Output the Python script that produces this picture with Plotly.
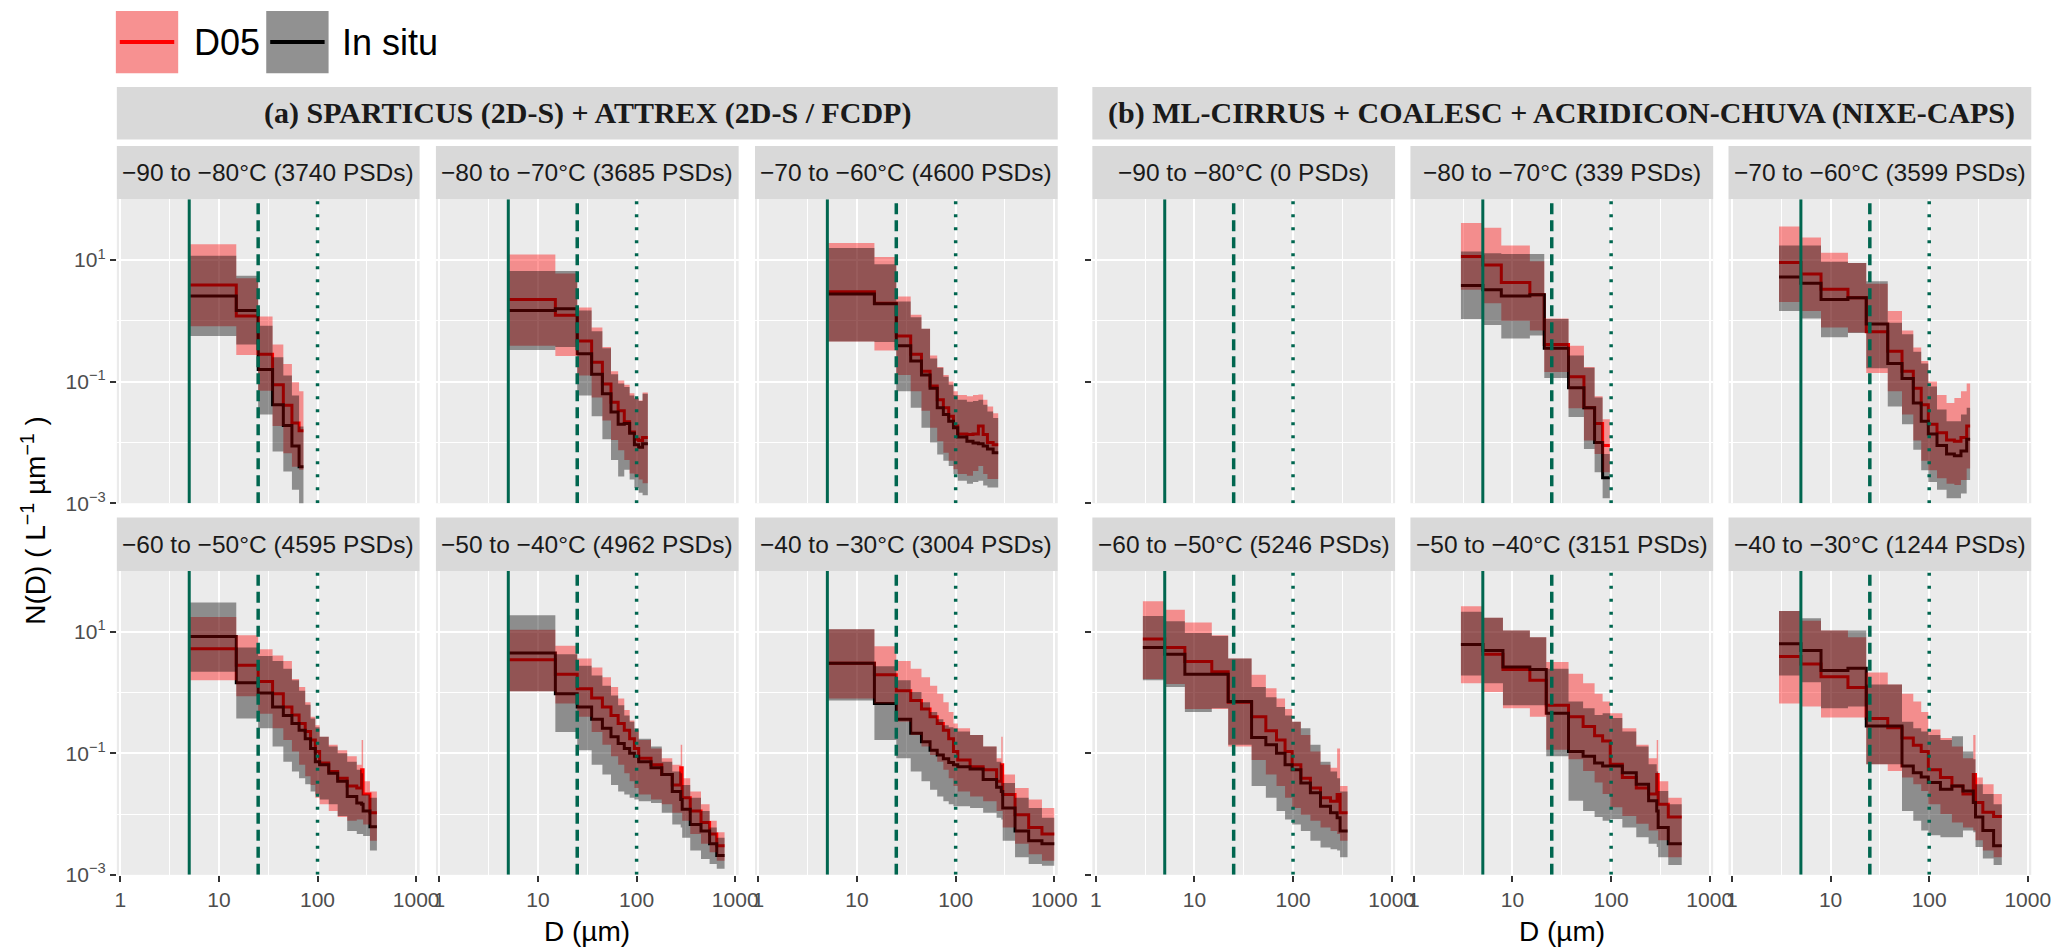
import plotly.graph_objects as go

W, H = 2067, 950

# ---- data ----
# bin edges in µm; N(D) values stored as log10 of L^-1 µm^-1 (mean, low, high)
# (a) SPARTICUS + ATTREX
a1_edges = [5, 15, 25, 35, 45, 55, 65, 72]
a1_d05 = [0.59, 0.08, -0.55, -1.05, -1.39, -1.68, -1.81]
a1_d05_lo = [-0.09, -0.56, -1.15, -1.73, -2.18, -2.40, -2.45]
a1_d05_hi = [1.26, 0.70, 0.07, -0.39, -0.71, -1.01, -1.16]
a1_obs = [0.41, 0.17, -0.80, -1.38, -1.72, -2.06, -2.40]
a1_obs_lo = [-0.25, -0.39, -1.54, -2.15, -2.48, -2.78, -3.05]
a1_obs_hi = [1.07, 0.74, -0.08, -0.60, -0.90, -1.23, -1.74]

a2_edges = [5, 15, 25, 35, 45, 55, 65, 75, 85, 95, 105, 115, 130]
a2_d05 = [0.35, 0.09, -0.33, -0.68, -1.04, -1.34, -1.48, -1.66, -1.83, -1.95, -1.97, -1.92]
a2_d05_lo = [-0.41, -0.58, -0.90, -1.26, -1.64, -1.96, -2.13, -2.29, -2.51, -2.56, -2.61, -2.67]
a2_d05_hi = [1.09, 0.78, 0.22, -0.11, -0.43, -0.83, -0.98, -1.05, -1.19, -1.27, -1.31, -1.18]
a2_obs = [0.17, 0.20, -0.54, -0.88, -1.20, -1.50, -1.70, -1.69, -1.85, -2.04, -2.08, -2.02]
a2_obs_lo = [-0.48, -0.43, -1.23, -1.57, -1.95, -2.29, -2.56, -2.45, -2.61, -2.75, -2.83, -2.87]
a2_obs_hi = [0.82, 0.82, 0.17, -0.17, -0.45, -0.88, -1.03, -1.09, -1.23, -1.28, -1.32, -1.20]

a3_edges = [5, 15, 25, 35, 45, 55, 65, 75, 85, 95, 105, 130, 150, 170, 190, 210, 240, 270]
a3_d05 = [0.48, 0.29, -0.25, -0.55, -0.83, -1.07, -1.30, -1.43, -1.57, -1.73, -1.86, -1.87, -1.86, -1.73, -1.87, -2.00, -2.04]
a3_d05_lo = [-0.34, -0.49, -0.89, -1.16, -1.48, -1.76, -1.98, -2.17, -2.30, -2.44, -2.52, -2.55, -2.47, -2.39, -2.52, -2.60, -2.60]
a3_d05_hi = [1.28, 1.05, 0.40, 0.10, -0.13, -0.57, -0.76, -0.89, -1.00, -1.16, -1.22, -1.24, -1.22, -1.21, -1.30, -1.41, -1.52]
a3_obs = [0.44, 0.28, -0.41, -0.66, -0.89, -1.11, -1.43, -1.54, -1.65, -1.76, -1.91, -1.98, -2.01, -2.02, -2.06, -2.11, -2.17]
a3_obs_lo = [-0.34, -0.35, -1.16, -1.43, -1.76, -2.00, -2.20, -2.30, -2.39, -2.52, -2.63, -2.68, -2.65, -2.63, -2.71, -2.74, -2.74]
a3_obs_hi = [1.20, 0.93, 0.32, 0.06, -0.13, -0.62, -0.77, -0.92, -1.05, -1.22, -1.30, -1.33, -1.32, -1.30, -1.38, -1.49, -1.60]

a4_edges = [5, 15, 25, 35, 45, 55, 65, 75, 85, 95, 105, 130, 160, 200, 250, 280, 290, 340, 400]
a4_d05 = [0.72, 0.45, 0.18, -0.02, -0.24, -0.37, -0.51, -0.64, -0.78, -0.97, -1.16, -1.30, -1.41, -1.54, -1.57, -1.27, -1.67, -1.98]
a4_d05_lo = [0.20, -0.06, -0.35, -0.59, -0.78, -0.97, -1.19, -1.38, -1.52, -1.73, -1.84, -1.95, -2.05, -2.11, -2.09, -2.09, -2.17, -2.44]
a4_d05_hi = [1.24, 0.94, 0.71, 0.61, 0.52, 0.22, 0.09, -0.16, -0.40, -0.54, -0.73, -0.86, -0.95, -1.05, -1.19, -0.78, -1.46, -1.63]
a4_obs = [0.92, 0.16, -0.01, -0.24, -0.38, -0.51, -0.62, -0.76, -0.92, -1.14, -1.19, -1.33, -1.46, -1.71, -1.82, -1.84, -1.95, -2.21]
a4_obs_lo = [0.34, -0.43, -0.59, -0.89, -1.14, -1.30, -1.41, -1.51, -1.63, -1.68, -1.76, -1.84, -2.03, -2.28, -2.33, -2.33, -2.36, -2.60]
a4_obs_hi = [1.48, 0.74, 0.60, 0.52, 0.39, 0.20, 0.03, -0.20, -0.43, -0.57, -0.73, -0.89, -1.00, -1.14, -1.27, -1.33, -1.68, -1.73]

a5_edges = [5, 15, 25, 35, 45, 55, 65, 75, 85, 95, 105, 140, 180, 230, 280, 290, 350, 450, 550, 650, 780]
a5_d05 = [0.54, 0.30, 0.06, -0.09, -0.24, -0.38, -0.51, -0.62, -0.76, -0.92, -1.08, -1.19, -1.35, -1.52, -1.24, -1.73, -1.95, -2.14, -2.33, -2.52]
a5_d05_lo = [0.02, -0.18, -0.40, -0.65, -0.86, -1.05, -1.19, -1.33, -1.46, -1.57, -1.68, -1.76, -1.84, -1.98, -1.98, -2.11, -2.33, -2.49, -2.63, -2.77]
a5_d05_hi = [1.03, 0.77, 0.56, 0.41, 0.25, 0.09, -0.10, -0.29, -0.46, -0.62, -0.78, -0.92, -1.08, -1.19, -0.86, -1.41, -1.63, -1.84, -2.11, -2.30]
a5_obs = [0.65, -0.02, -0.24, -0.44, -0.59, -0.73, -0.84, -0.92, -1.00, -1.05, -1.14, -1.24, -1.35, -1.63, -1.76, -1.92, -2.17, -2.28, -2.49, -2.68]
a5_obs_lo = [0.02, -0.65, -0.95, -1.19, -1.35, -1.52, -1.63, -1.68, -1.73, -1.76, -1.79, -1.82, -1.98, -2.17, -2.22, -2.39, -2.60, -2.74, -2.82, -2.90]
a5_obs_hi = [1.27, 0.63, 0.44, 0.28, 0.11, -0.05, -0.21, -0.38, -0.48, -0.59, -0.76, -0.89, -1.14, -1.30, -1.33, -1.52, -1.73, -1.95, -2.22, -2.39]

a6_edges = [5, 15, 25, 35, 45, 55, 65, 75, 85, 95, 105, 140, 190, 260, 290, 300, 400, 550, 750, 1000]
a6_d05 = [0.48, 0.29, 0.03, -0.13, -0.27, -0.40, -0.51, -0.62, -0.76, -0.97, -1.11, -1.22, -1.27, -1.46, -1.19, -1.68, -2.01, -2.22, -2.33]
a6_d05_lo = [-0.10, -0.18, -0.48, -0.70, -0.89, -1.03, -1.14, -1.27, -1.41, -1.54, -1.63, -1.71, -1.79, -1.95, -1.95, -2.22, -2.49, -2.66, -2.77]
a6_d05_hi = [1.04, 0.76, 0.52, 0.39, 0.25, 0.11, -0.02, -0.16, -0.32, -0.51, -0.59, -0.70, -0.89, -1.08, -0.73, -1.35, -1.57, -1.76, -1.90]
a6_obs = [0.48, -0.18, -0.44, -0.67, -0.81, -0.95, -1.03, -1.09, -1.15, -1.19, -1.22, -1.26, -1.43, -1.56, -1.63, -1.90, -2.28, -2.44, -2.49]
a6_obs_lo = [-0.13, -0.78, -1.08, -1.30, -1.46, -1.60, -1.71, -1.79, -1.84, -1.87, -1.87, -1.90, -1.98, -2.06, -2.09, -2.44, -2.71, -2.82, -2.85]
a6_obs_hi = [1.04, 0.43, 0.20, 0.01, -0.16, -0.32, -0.44, -0.54, -0.57, -0.59, -0.64, -0.70, -0.89, -1.14, -1.19, -1.49, -1.73, -1.90, -2.06]

# (b) ML-CIRRUS + COALESC + ACRIDICON-CHUVA (first panel has no PSDs)
b2_edges = [3, 5, 7.7, 15, 21, 37, 53, 68, 82, 97]
b2_d05 = [1.06, 0.92, 0.63, 0.43, -0.39, -0.92, -1.43, -1.69, -2.05]
b2_d05_lo = [0.51, 0.29, 0.00, -0.16, -0.84, -1.44, -1.97, -2.19, -2.49]
b2_d05_hi = [1.61, 1.53, 1.24, 0.98, 0.04, -0.41, -0.76, -1.24, -1.62]
b2_obs = [0.58, 0.51, 0.41, 0.43, -0.45, -1.10, -1.43, -2.00, -2.58]
b2_obs_lo = [0.03, -0.07, -0.29, -0.24, -0.94, -1.58, -2.11, -2.49, -2.92]
b2_obs_hi = [1.14, 1.11, 1.10, 1.10, 0.03, -0.57, -0.77, -1.26, -2.19]

b3_edges = [3, 5, 8, 15, 23, 38, 53, 69, 83, 98, 120, 150, 180, 210, 240, 260]
b3_d05 = [0.96, 0.77, 0.52, 0.38, -0.18, -0.50, -0.83, -1.11, -1.38, -1.70, -1.84, -1.96, -1.98, -1.92, -1.73]
b3_d05_lo = [0.31, 0.16, -0.11, -0.19, -0.86, -1.16, -1.54, -1.97, -2.30, -2.46, -2.59, -2.68, -2.70, -2.62, -2.43]
b3_d05_hi = [1.55, 1.37, 1.12, 0.95, 0.61, 0.16, -0.16, -0.44, -0.66, -1.00, -1.22, -1.35, -1.27, -1.16, -1.03]
b3_obs = [0.72, 0.62, 0.35, 0.38, -0.05, -0.70, -0.95, -1.35, -1.65, -1.86, -2.05, -2.19, -2.22, -2.14, -1.95]
b3_obs_lo = [0.16, 0.04, -0.27, -0.20, -0.78, -1.41, -1.70, -2.12, -2.46, -2.65, -2.78, -2.92, -2.92, -2.84, -2.62]
b3_obs_hi = [1.24, 1.24, 0.97, 0.95, 0.65, -0.03, -0.22, -0.51, -0.70, -1.08, -1.46, -1.65, -1.65, -1.54, -1.43]

b4_edges = [3, 5, 8, 15, 22, 38, 53, 68, 83, 98, 120, 150, 190, 240, 280, 300, 357]
b4_d05 = [0.88, 0.74, 0.51, 0.34, -0.16, -0.40, -0.63, -0.78, -0.97, -1.19, -1.41, -1.57, -1.73, -1.79, -1.68, -1.98]
b4_d05_lo = [0.22, 0.14, -0.27, -0.27, -0.89, -1.11, -1.35, -1.54, -1.73, -1.90, -2.01, -2.11, -2.22, -2.28, -2.33, -2.44]
b4_d05_hi = [1.50, 1.36, 1.15, 0.94, 0.56, 0.29, 0.07, -0.10, -0.27, -0.48, -0.70, -0.97, -1.19, -1.24, -0.92, -1.54]
b4_obs = [0.74, 0.63, 0.30, 0.30, -0.15, -0.74, -0.86, -1.00, -1.19, -1.27, -1.49, -1.65, -1.87, -1.98, -2.06, -2.28]
b4_obs_lo = [0.20, 0.09, -0.32, -0.26, -0.86, -1.54, -1.73, -1.95, -2.09, -2.17, -2.28, -2.44, -2.55, -2.58, -2.60, -2.71]
b4_obs_hi = [1.26, 1.17, 0.98, 0.93, 0.56, 0.09, -0.08, -0.24, -0.38, -0.48, -0.59, -0.86, -1.14, -1.30, -1.41, -1.63]

b5_edges = [3, 5, 8, 15, 22, 37, 52, 68, 82, 98, 130, 180, 240, 290, 300, 380, 520]
b5_d05 = [0.79, 0.63, 0.38, 0.20, -0.21, -0.40, -0.56, -0.71, -0.80, -1.18, -1.40, -1.57, -1.67, -1.35, -1.84, -2.05]
b5_d05_lo = [0.15, 0.01, -0.26, -0.40, -0.94, -1.10, -1.29, -1.48, -1.67, -1.89, -2.03, -2.16, -2.27, -2.27, -2.43, -2.71]
b5_d05_hi = [1.42, 1.23, 1.02, 0.91, 0.50, 0.31, 0.15, -0.02, -0.15, -0.34, -0.59, -0.86, -1.08, -0.78, -1.46, -1.73]
b5_obs = [0.79, 0.69, 0.42, 0.38, -0.34, -0.97, -1.05, -1.16, -1.21, -1.21, -1.32, -1.51, -1.78, -1.95, -2.22, -2.49]
b5_obs_lo = [0.28, 0.15, -0.21, -0.21, -1.05, -1.78, -1.95, -2.05, -2.11, -2.08, -2.22, -2.38, -2.49, -2.54, -2.71, -2.84]
b5_obs_hi = [1.33, 1.23, 1.02, 0.91, 0.39, -0.15, -0.26, -0.37, -0.34, -0.42, -0.64, -0.89, -1.18, -1.30, -1.62, -1.84]

b6_edges = [3, 5, 8, 15, 23, 38, 53, 69, 83, 98, 130, 170, 220, 280, 295, 350, 450, 545]
b6_d05 = [0.59, 0.47, 0.26, 0.08, -0.43, -0.58, -0.75, -0.87, -0.97, -1.27, -1.40, -1.54, -1.67, -1.35, -1.81, -1.97, -2.04]
b6_d05_lo = [-0.18, -0.23, -0.41, -0.41, -1.18, -1.29, -1.40, -1.51, -1.62, -1.84, -2.00, -2.14, -2.22, -2.27, -2.43, -2.60, -2.71]
b6_d05_hi = [1.34, 1.18, 1.02, 0.91, 0.33, 0.13, -0.02, -0.15, -0.32, -0.61, -0.75, -0.89, -1.08, -0.70, -1.40, -1.51, -1.67]
b6_obs = [0.80, 0.69, 0.36, 0.40, -0.55, -0.55, -1.21, -1.32, -1.39, -1.48, -1.59, -1.54, -1.62, -1.81, -2.05, -2.27, -2.52]
b6_obs_lo = [0.28, 0.17, -0.26, -0.23, -1.18, -1.18, -1.95, -2.11, -2.27, -2.35, -2.38, -2.38, -2.27, -2.30, -2.54, -2.73, -2.84]
b6_obs_hi = [1.34, 1.22, 1.02, 1.02, 0.13, 0.13, -0.48, -0.59, -0.64, -0.70, -0.78, -0.72, -0.97, -1.10, -1.51, -1.67, -1.84]

panel_labels = [
    "−90 to −80°C (3740 PSDs)", "−80 to −70°C (3685 PSDs)", "−70 to −60°C (4600 PSDs)",
    "−90 to −80°C (0 PSDs)", "−80 to −70°C (339 PSDs)", "−70 to −60°C (3599 PSDs)",
    "−60 to −50°C (4595 PSDs)", "−50 to −40°C (4962 PSDs)", "−40 to −30°C (3004 PSDs)",
    "−60 to −50°C (5246 PSDs)", "−50 to −40°C (3151 PSDs)", "−40 to −30°C (1244 PSDs)",
]
group_titles = ["(a) SPARTICUS (2D-S) + ATTREX (2D-S / FCDP)",
                "(b) ML-CIRRUS + COALESC + ACRIDICON-CHUVA (NIXE-CAPS)"]

# instrument size limits drawn in every panel (µm)
limit_sizes = [5, 25, 100]
limit_dash = ["solid", "11px,6px", "3px,10px"]
limit_width = [3, 3.5, 3.5]

panels = [
    (a1_edges, a1_d05, a1_d05_lo, a1_d05_hi, a1_obs, a1_obs_lo, a1_obs_hi),
    (a2_edges, a2_d05, a2_d05_lo, a2_d05_hi, a2_obs, a2_obs_lo, a2_obs_hi),
    (a3_edges, a3_d05, a3_d05_lo, a3_d05_hi, a3_obs, a3_obs_lo, a3_obs_hi),
    None,
    (b2_edges, b2_d05, b2_d05_lo, b2_d05_hi, b2_obs, b2_obs_lo, b2_obs_hi),
    (b3_edges, b3_d05, b3_d05_lo, b3_d05_hi, b3_obs, b3_obs_lo, b3_obs_hi),
    (a4_edges, a4_d05, a4_d05_lo, a4_d05_hi, a4_obs, a4_obs_lo, a4_obs_hi),
    (a5_edges, a5_d05, a5_d05_lo, a5_d05_hi, a5_obs, a5_obs_lo, a5_obs_hi),
    (a6_edges, a6_d05, a6_d05_lo, a6_d05_hi, a6_obs, a6_obs_lo, a6_obs_hi),
    (b4_edges, b4_d05, b4_d05_lo, b4_d05_hi, b4_obs, b4_obs_lo, b4_obs_hi),
    (b5_edges, b5_d05, b5_d05_lo, b5_d05_hi, b5_obs, b5_obs_lo, b5_obs_hi),
    (b6_edges, b6_d05, b6_d05_lo, b6_d05_hi, b6_obs, b6_obs_lo, b6_obs_hi),
]

# layout in pixels
panel_left = [108, 430.5, 753, 1094, 1415.5, 1737]
panel_w = 306
row_top = [193.5, 569.5]
row_h = 307.5
strip_h = 54
group_top, group_bot = 80, 133
GREEN = "#00664F"
RED_FILL = "rgba(255,0,0,0.4)"
BLACK_FILL = "rgba(0,0,0,0.4)"


def px(x):
    return x / W


def py(y):
    return 1 - y / H


def steps(edges, vals):
    # value of each bin from its left edge, last value repeated to close the final bin
    y = [10 ** v for v in vals]
    return edges, y + y[-1:]


fig = go.Figure()
shapes = []
annotations = []
axes = {}

for k in range(12):
    row, col = divmod(k, 6)
    sfx = "" if k == 0 else str(k + 1)
    xa, ya = "x" + sfx, "y" + sfx
    common = dict(xaxis=xa, yaxis=ya, showlegend=False, hoverinfo="skip")

    data = panels[k]
    if data is not None:
        edges, d05, d05_lo, d05_hi, obs, obs_lo, obs_hi = data
        # lines first, ribbons on top (as in the original layering)
        for vals, color in ((d05, "#FF0000"), (obs, "#000000")):
            xs, ys = steps(edges, vals)
            fig.add_trace(go.Scatter(x=xs, y=ys, mode="lines",
                                     line=dict(color=color, width=3, shape="hv"), **common))
        for lo, hi, fc in ((d05_lo, d05_hi, RED_FILL), (obs_lo, obs_hi, BLACK_FILL)):
            xs, ylo = steps(edges, lo)
            _, yhi = steps(edges, hi)
            fig.add_trace(go.Scatter(x=xs, y=ylo, mode="lines",
                                     line=dict(width=0, shape="hv"), **common))
            fig.add_trace(go.Scatter(x=xs, y=yhi, mode="lines", fill="tonexty", fillcolor=fc,
                                     line=dict(width=0, shape="hv"), **common))

    for xv, dash, lw in zip(limit_sizes, limit_dash, limit_width):
        fig.add_trace(go.Scatter(x=[xv, xv], y=[1e-3, 1e2], mode="lines",
                                 line=dict(color=GREEN, width=lw, dash=dash), **common))

    left = panel_left[col]
    top = row_top[row]
    axes["xaxis" + sfx] = dict(
        domain=[px(left), px(left + panel_w)], anchor=ya, type="log",
        range=[-0.035, 3.035],
        tickvals=[1, 10, 100, 1000], ticktext=["1", "10", "100", "1000"],
        showticklabels=(row == 1), ticks="outside" if row == 1 else "",
        ticklen=6, tickwidth=2, tickcolor="#333333",
        tickfont=dict(size=21, color="#4D4D4D"),
        showgrid=True, gridcolor="white", gridwidth=2,
        minor=dict(tickvals=[3.162, 31.62, 316.2], showgrid=True,
                   gridcolor="white", gridwidth=1),
        zeroline=False, showline=False, fixedrange=True,
    )
    axes["yaxis" + sfx] = dict(
        domain=[py(top + row_h), py(top)], anchor=xa, type="log",
        range=[-3, 2],
        tickvals=[1e-3, 1e-1, 1e1],
        ticktext=["10<sup>−3</sup>", "10<sup>−1</sup>", "10<sup>1</sup>"],
        showticklabels=(col == 0), ticks="outside" if col in (0, 3) else "",
        ticklen=6, tickwidth=2, tickcolor="#333333",
        tickfont=dict(size=21, color="#4D4D4D"),
        showgrid=True, gridcolor="white", gridwidth=2,
        minor=dict(tickvals=[1e-2, 1], showgrid=True, gridcolor="white", gridwidth=1),
        zeroline=False, showline=False, fixedrange=True,
    )

    # facet strip
    s_top = top - strip_h
    shapes.append(dict(type="rect", xref="paper", yref="paper", layer="below",
                       x0=px(left), x1=px(left + panel_w), y0=py(top), y1=py(s_top),
                       fillcolor="#D9D9D9", line=dict(width=0)))
    annotations.append(dict(xref="paper", yref="paper", x=px(left + panel_w / 2),
                            y=py(s_top + strip_h / 2), text=panel_labels[k], showarrow=False,
                            font=dict(size=24.5, color="#1A1A1A"), xanchor="center", yanchor="middle"))

# group strips and x titles
for g in range(2):
    gl = panel_left[3 * g]
    gr = panel_left[3 * g + 2] + panel_w
    shapes.append(dict(type="rect", xref="paper", yref="paper", layer="below",
                       x0=px(gl), x1=px(gr), y0=py(group_bot), y1=py(group_top),
                       fillcolor="#D9D9D9", line=dict(width=0)))
    annotations.append(dict(xref="paper", yref="paper", x=px((gl + gr) / 2),
                            y=py((group_top + group_bot) / 2), text="<b>" + group_titles[g] + "</b>",
                            showarrow=False, xanchor="center", yanchor="middle",
                            font=dict(family="Liberation Serif", size=30, color="#1A1A1A")))
    annotations.append(dict(xref="paper", yref="paper", x=px((gl + gr) / 2), y=py(934),
                            text="D (µm)", showarrow=False, xanchor="center", yanchor="middle",
                            font=dict(size=28, color="black")))

# y title
annotations.append(dict(xref="paper", yref="paper", x=px(24), y=py(518),
                        text="N(D) ( L<sup>−1</sup> µm<sup>−1</sup> )", textangle=-90,
                        showarrow=False, xanchor="center", yanchor="middle",
                        font=dict(size=28, color="black")))

# legend drawn by hand, ggplot style keys
legend_items = [("D05", "#FF0000", RED_FILL, 107, 184), ("In situ", "#000000", BLACK_FILL, 259, 334)]
for name, lc, fc, kx, tx in legend_items:
    shapes.append(dict(type="rect", xref="paper", yref="paper", x0=px(kx), x1=px(kx + 63),
                       y0=py(66), y1=py(3), fillcolor="#F2F2F2", line=dict(width=0)))
    shapes.append(dict(type="line", xref="paper", yref="paper", x0=px(kx + 4), x1=px(kx + 59),
                       y0=py(34.5), y1=py(34.5), line=dict(color=lc, width=4)))
    shapes.append(dict(type="rect", xref="paper", yref="paper", x0=px(kx), x1=px(kx + 63),
                       y0=py(66), y1=py(3), fillcolor=fc, line=dict(width=0)))
    annotations.append(dict(xref="paper", yref="paper", x=px(tx), y=py(34.5), text=name,
                            showarrow=False, xanchor="left", yanchor="middle",
                            font=dict(size=36, color="black")))

fig.update_layout(
    width=W, height=H,
    margin=dict(l=0, r=0, t=0, b=0),
    paper_bgcolor="white", plot_bgcolor="#EBEBEB",
    font=dict(family="Liberation Sans, Arial, sans-serif"),
    shapes=shapes, annotations=annotations,
    **axes,
)

fig.write_html("out.html")
